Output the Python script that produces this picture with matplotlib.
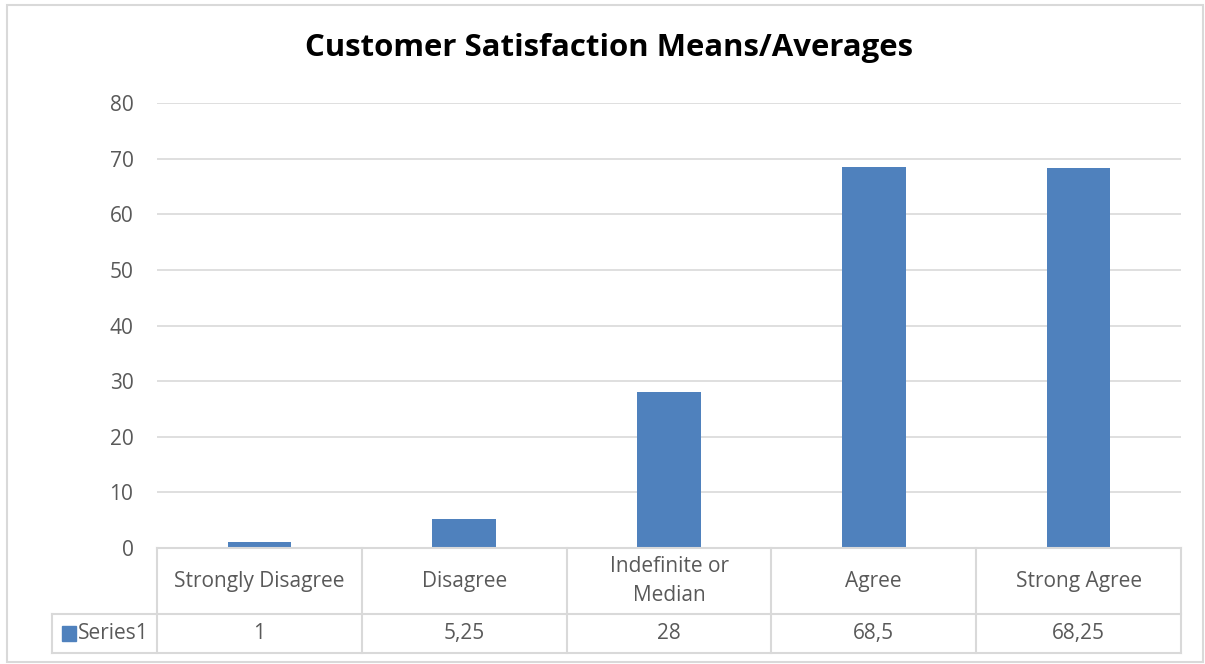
import matplotlib
matplotlib.use("Agg")
import matplotlib.pyplot as plt
from matplotlib.patches import Rectangle
from matplotlib.lines import Line2D
import matplotlib.transforms as mtransforms

# ====== 数据 ======
categories = ["Strongly Disagree", "Disagree", "Indefinite or\nMedian", "Agree", "Strong Agree"]
values = [1, 5.25, 28, 68.5, 68.25]
value_labels = ["1", "5,25", "28", "68,5", "68,25"]
series_name = "Series1"
yticks = [0, 10, 20, 30, 40, 50, 60, 70, 80]

BAR_COLOR = "#4f81bd"
GRID_COLOR = "#d9d9d9"
TEXT_COLOR = "#595959"
FONT = ["Open Sans", "DejaVu Sans"]
FS = 15

plt.rcParams["font.family"] = FONT

W, H = 1205, 664
fig = plt.figure(figsize=(W / 100, H / 100), dpi=100)

# 绘图区 (像素换算)
left, right, top, bottom = 157, 1181, 103, 548
ax = fig.add_axes([left / W, 1 - bottom / H, (right - left) / W, (bottom - top) / H])

x = range(len(categories))
ax.bar(x, values, width=0.31, color=BAR_COLOR, zorder=3)
ax.set_xlim(-0.5, len(categories) - 0.5)
ax.set_ylim(0, 80)
ax.set_yticks(yticks)
ax.set_yticklabels([str(t) for t in yticks], fontsize=FS, color=TEXT_COLOR)
ax.tick_params(axis="y", length=0, pad=17)
ax.set_xticks([])
ax.yaxis.grid(True, color=GRID_COLOR, linewidth=1.2, zorder=0)
for s in ax.spines.values():
    s.set_visible(False)

fig.text(0.505, 1 - 48 / H, "Customer Satisfaction Means/Averages", fontsize=22.4,
         fontweight="bold", color="black", ha="center", va="center")

# ====== 数据表 ======
ph = bottom - top
row1 = -(614 - bottom) / ph
row2 = -(653 - bottom) / ph
leg_x = -0.5 - (left - 52) / ((right - left) / len(categories))
trans = mtransforms.blended_transform_factory(ax.transData, ax.transAxes)

def tline(xs, ys):
    ax.add_line(Line2D(xs, ys, transform=trans, color=GRID_COLOR, linewidth=1.5,
                       clip_on=False, zorder=4))

tline([-0.5, 4.5], [0, 0])
tline([leg_x, 4.5], [row1, row1])
tline([leg_x, 4.5], [row2, row2])
for i in range(len(categories) + 1):
    tline([i - 0.5, i - 0.5], [0, row2])
tline([leg_x, leg_x], [row1, row2])

for i, (c, v) in enumerate(zip(categories, value_labels)):
    ax.text(i, row1 / 2, c, transform=trans, ha="center", va="center",
            fontsize=FS, color=TEXT_COLOR, linespacing=1.55)
    ax.text(i, (row1 + row2) / 2, v, transform=trans, ha="center", va="center",
            fontsize=FS, color=TEXT_COLOR)

ax.add_patch(Rectangle((leg_x + 0.05, (row1 + row2) / 2 - 0.016), 0.065, 0.032,
                       transform=trans, color=BAR_COLOR, clip_on=False))
ax.text(leg_x + 0.125, (row1 + row2) / 2, series_name, transform=trans, ha="left",
        va="center", fontsize=FS, color=TEXT_COLOR)

# 外边框
fig.patches.append(Rectangle((7 / W, 1 - 662 / H), (1203 - 7) / W, (662 - 5) / H,
                             transform=fig.transFigure, fill=False,
                             edgecolor=GRID_COLOR, linewidth=1.5))

fig.savefig("out.png", dpi=100)
